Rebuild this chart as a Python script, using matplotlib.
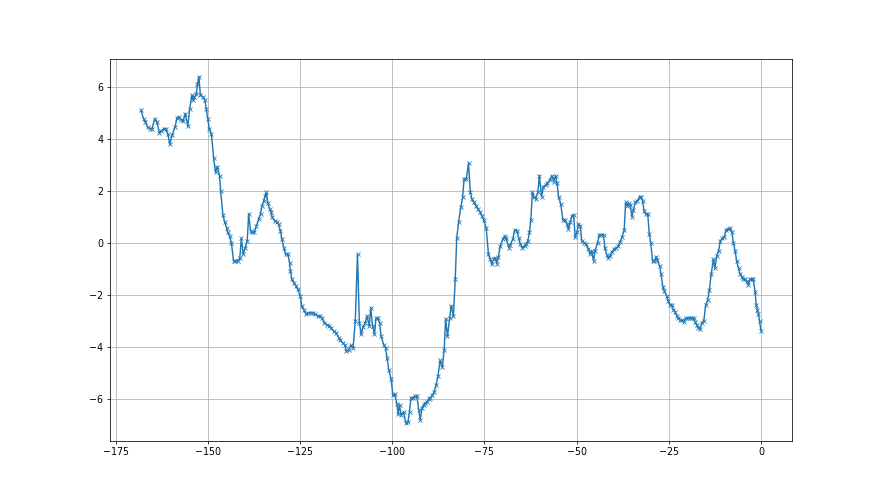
import numpy as np
import matplotlib
matplotlib.use('Agg')
import matplotlib.pyplot as plt

# values
x = [-168.1, -167.4, -166.9, -166.3, -165.7, -165.1, -164.4, -163.8, -163.1, -162.6,
     -161.9, -161.4, -160.8, -160.3, -159.7, -158.9, -158.3, -157.9, -157.2, -156.7,
     -156.1, -155.4, -154.9, -154.3, -153.9, -153.6, -153.1, -152.8, -152.4, -152.0,
     -151.3, -150.8, -150.4, -150.0, -149.6, -149.0, -148.4, -147.9, -147.4, -146.8,
     -146.5, -145.9, -145.4, -144.9, -144.6, -144.1, -143.6, -143.0, -142.5, -141.9,
     -141.3, -140.9, -140.4, -139.8, -139.3, -138.9, -138.4, -138.0, -137.4, -136.8,
     -136.2, -135.7, -135.3, -134.8, -134.4, -134.1, -133.7, -133.2, -132.8, -132.5,
     -131.9, -131.2, -130.8, -130.3, -129.9, -129.4, -128.9, -128.3, -127.8, -127.6,
     -127.2, -126.7, -126.1, -125.6, -124.9, -124.5, -124.0, -123.3, -122.7, -122.0,
     -121.5, -120.8, -120.2, -119.7, -119.0, -118.4, -117.7, -117.0, -116.5, -115.9,
     -115.2, -114.5, -114.1, -113.4, -112.9, -112.4, -111.8, -111.2, -110.6, -110.0,
     -109.4, -108.9, -108.4, -107.9, -107.3, -106.8, -106.2, -105.8, -105.3, -104.8,
     -104.4, -103.9, -103.4, -103.0, -102.3, -101.8, -101.4, -100.9, -100.3, -99.8,
     -99.3, -98.7, -98.4, -98.0, -97.6, -96.9, -96.3, -95.7, -95.3, -94.9,
     -94.4, -93.9, -93.3, -92.8, -92.4, -91.9, -91.5, -91.0, -90.6, -90.1,
     -89.7, -89.1, -88.6, -88.1, -87.6, -87.0, -86.4, -85.9, -85.5, -85.0,
     -84.4, -84.0, -83.4, -82.9, -82.5, -82.0, -81.4, -80.9, -80.5, -79.9,
     -79.3, -78.8, -78.4, -77.9, -77.3, -76.8, -76.1, -75.7, -75.2, -74.5,
     -73.9, -73.4, -73.0, -72.5, -72.1, -71.6, -71.2, -70.7, -70.0, -69.5,
     -69.1, -68.4, -68.0, -67.3, -66.8, -66.2, -65.7, -65.3, -64.7, -64.1,
     -63.7, -63.2, -62.8, -62.4, -62.0, -61.5, -61.1, -60.5, -60.1, -59.5,
     -59.0, -58.4, -57.9, -57.3, -56.7, -56.2, -55.7, -55.3, -54.9, -54.3,
     -53.7, -53.1, -52.6, -52.2, -51.7, -51.3, -50.8, -50.4, -49.9, -49.5,
     -49.0, -48.6, -48.0, -47.4, -46.8, -46.3, -45.9, -45.4, -45.0, -44.3,
     -43.8, -43.3, -42.7, -42.3, -41.8, -41.4, -40.9, -40.5, -39.8, -39.3,
     -38.7, -38.2, -37.7, -37.1, -36.7, -36.3, -35.9, -35.5, -35.0, -34.6,
     -34.1, -33.5, -32.9, -32.6, -32.1, -31.7, -31.2, -30.7, -30.3, -29.9,
     -29.4, -29.0, -28.4, -28.1, -27.5, -27.1, -26.6, -26.2, -25.6, -25.1,
     -24.7, -24.2, -23.8, -23.3, -22.8, -22.4, -21.9, -21.5, -21.0, -20.4,
     -19.9, -19.2, -18.8, -18.3, -17.9, -17.4, -17.0, -16.5, -16.1, -15.5,
     -15.0, -14.5, -14.0, -13.5, -12.9, -12.5, -12.0, -11.5, -11.0, -10.5,
     -9.9, -9.5, -8.9, -8.5, -7.9, -7.5, -7.0, -6.6, -6.1, -5.7,
     -5.2, -4.8, -4.3, -3.9, -3.4, -3.0, -2.5, -2.1, -1.6, -1.3,
     -1.0, -0.7, -0.4, 0.0]
y = [5.11, 4.78, 4.65, 4.46, 4.40, 4.40, 4.78, 4.65, 4.23, 4.31,
     4.40, 4.40, 4.18, 3.79, 4.14, 4.46, 4.82, 4.85, 4.75, 4.68,
     4.98, 4.49, 5.17, 5.69, 5.49, 5.60, 5.75, 6.11, 6.40, 5.69,
     5.62, 5.49, 5.17, 4.78, 4.40, 4.18, 3.26, 2.72, 2.94, 2.59,
     1.99, 1.08, 0.79, 0.59, 0.40, 0.27, 0.01, -0.70, -0.70, -0.70,
     -0.57, 0.18, -0.44, -0.18, 0.08, 1.11, 0.46, 0.40, 0.40, 0.66,
     0.92, 1.11, 1.43, 1.62, 1.82, 1.95, 1.52, 1.30, 1.17, 0.98,
     0.85, 0.79, 0.72, 0.46, 0.14, -0.18, -0.44, -0.44, -0.76, -1.08,
     -1.41, -1.53, -1.66, -1.79, -2.05, -2.44, -2.57, -2.76, -2.70, -2.70,
     -2.70, -2.76, -2.82, -2.82, -2.89, -3.08, -3.15, -3.21, -3.28, -3.40,
     -3.47, -3.66, -3.76, -3.85, -3.92, -4.18, -4.11, -3.95, -4.05, -3.02,
     -0.44, -3.08, -3.53, -3.25, -3.08, -2.82, -3.21, -2.50, -3.21, -3.53,
     -2.91, -2.91, -3.08, -3.60, -3.92, -4.05, -4.44, -4.91, -5.23, -5.88,
     -5.83, -6.21, -6.60, -6.24, -6.63, -6.52, -6.95, -6.89, -6.50, -5.98,
     -5.98, -5.92, -5.92, -6.43, -6.82, -6.37, -6.24, -6.18, -6.14, -6.02,
     -5.98, -5.88, -5.73, -5.49, -5.14, -4.53, -4.80, -4.11, -2.93, -3.60,
     -2.90, -2.42, -2.82, -1.41, 0.18, 0.79, 1.37, 1.75, 2.46, 2.46,
     3.07, 1.95, 1.69, 1.56, 1.43, 1.30, 1.17, 1.04, 0.88, 0.57,
     -0.44, -0.63, -0.83, -0.63, -0.57, -0.80, -0.54, -0.12, 0.14, 0.27,
     0.18, -0.18, -0.08, 0.14, 0.50, 0.46, 0.18, -0.03, -0.18, -0.12,
     -0.05, 0.08, 0.40, 0.88, 1.95, 1.75, 1.69, 1.95, 2.59, 1.78,
     2.17, 2.22, 2.30, 2.41, 2.59, 2.36, 2.59, 2.30, 1.78, 1.50,
     0.88, 0.88, 0.72, 0.53, 0.79, 1.04, 1.08, 0.21, 0.40, 0.72,
     0.66, 0.08, 0.01, -0.05, -0.24, -0.44, -0.31, -0.70, -0.31, 0.01,
     0.31, 0.31, 0.31, -0.21, -0.46, -0.59, -0.50, -0.37, -0.24, -0.21,
     -0.12, 0.04, 0.21, 0.48, 1.56, 1.43, 1.52, 1.47, 1.01, 1.26,
     1.56, 1.62, 1.78, 1.78, 1.60, 1.24, 1.11, 1.11, 0.34, 0.01,
     -0.70, -0.70, -0.54, -0.67, -0.89, -1.21, -1.70, -1.86, -2.05, -2.24,
     -2.40, -2.40, -2.57, -2.65, -2.82, -2.91, -2.99, -2.99, -3.04, -2.91,
     -2.91, -2.89, -2.91, -2.89, -3.04, -3.17, -3.28, -3.31, -3.10, -3.00,
     -2.40, -2.22, -1.83, -1.20, -0.63, -0.98, -0.50, -0.31, 0.08, 0.17,
     0.23, 0.49, 0.53, 0.57, 0.42, 0.01, -0.33, -0.71, -0.98, -1.19,
     -1.32, -1.41, -1.41, -1.47, -1.62, -1.41, -1.41, -1.41, -1.88, -2.40,
     -2.57, -2.73, -3.02, -3.38]

s = 0.6875  # picture looks like a 12.8x7.2 figure shrunk down
plt.rcParams['font.size'] = 10 * s
plt.rcParams['axes.linewidth'] = 0.8 * s
plt.rcParams['xtick.major.size'] = 3.5 * s
plt.rcParams['ytick.major.size'] = 3.5 * s
plt.rcParams['xtick.major.width'] = 0.8 * s
plt.rcParams['ytick.major.width'] = 0.8 * s
plt.rcParams['xtick.major.pad'] = 3.5 * s
plt.rcParams['ytick.major.pad'] = 3.5 * s

fig = plt.figure(figsize=(8.8, 4.95), dpi=100)
ax = fig.add_subplot(111)
ax.plot(x, y, 'x-', color='#1f77b4', linewidth=1.5 * s, markersize=3.2,
        markeredgewidth=0.6)
ax.grid(True, linewidth=0.8 * s)
ax.set_xticks([-175, -150, -125, -100, -75, -50, -25, 0])
ax.set_yticks([-6, -4, -2, 0, 2, 4, 6])
fig.savefig('out.png', dpi=100)
